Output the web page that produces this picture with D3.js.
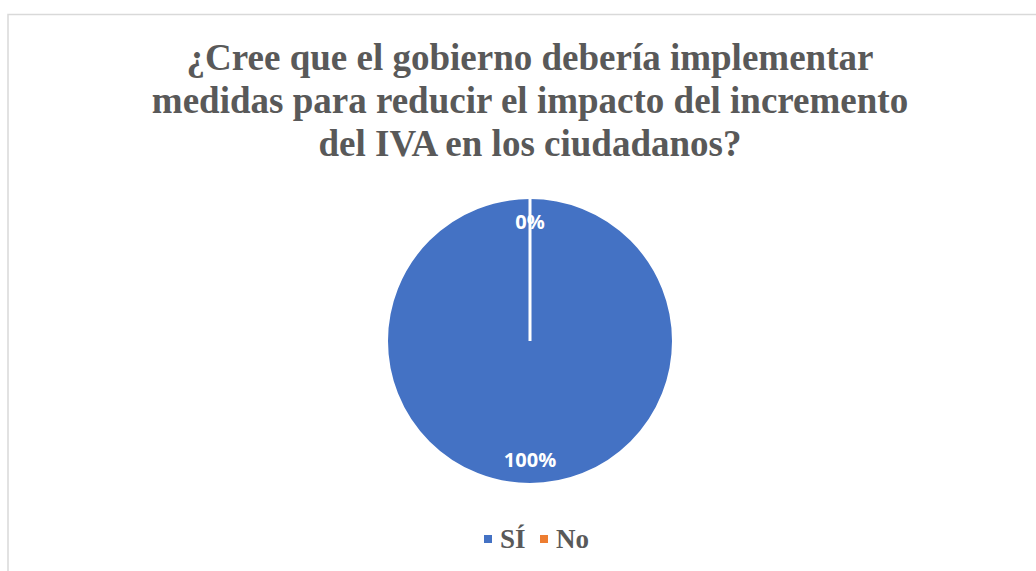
<!DOCTYPE html>
<html>
<head>
<meta charset="utf-8">
<script src="https://cdn.jsdelivr.net/npm/d3@7"></script>
<style>
  body { margin: 0; background: #fff; }
</style>
</head>
<body>
<div class="pie"></div>
<script>
var svgWidth = 1036;
var svgHeight = 571;

// chart data
var categories = ["SÍ", "No"];
var values = [100, 0];
var colors = ["#4472C4", "#ED7D31"];
var titleLines = [
  "¿Cree que el gobierno debería implementar",
  "medidas para reducir el impacto del incremento",
  "del IVA en los ciudadanos?"
];

var svg = d3.select(".pie")
  .append("svg")
  .attr("width", svgWidth)
  .attr("height", svgHeight);

// chart area border
svg.append("rect")
  .attr("x", 8)
  .attr("y", 14.5)
  .attr("width", 1040)
  .attr("height", 600)
  .attr("fill", "none")
  .attr("stroke", "#d9d9d9")
  .attr("stroke-width", 1.5);

// title
svg.append("text")
  .attr("text-anchor", "middle")
  .attr("font-family", "'Liberation Serif', 'Times New Roman', serif")
  .attr("font-weight", "bold")
  .attr("font-size", 37)
  .attr("fill", "#595959")
  .selectAll("tspan")
  .data(titleLines)
  .enter()
  .append("tspan")
  .attr("x", 530)
  .attr("y", (d, i) => 70 + i * 43)
  .text(d => d);

var cx = 530, cy = 341, radius = 143.5;

var pie = d3.pie().sort(null).value(d => d.value);
var arcs = pie(categories.map((c, i) => ({ name: c, value: values[i], color: colors[i] })));

var arc = d3.arc().innerRadius(0).outerRadius(radius);

var pieGroup = svg.append("g")
  .attr("transform", `translate(${cx}, ${cy})`);

pieGroup.selectAll("path")
  .data(arcs)
  .enter()
  .append("path")
  .attr("d", arc)
  .attr("fill", d => d.data.color)
  .attr("stroke", "#fff")
  .attr("stroke-width", 3);

var total = d3.sum(values);
pieGroup.selectAll("text")
  .data(arcs)
  .enter()
  .append("text")
  .attr("transform", d => {
    var a = (d.startAngle + d.endAngle) / 2;
    var r = radius * 0.83;
    return `translate(${Math.sin(a) * r}, ${-Math.cos(a) * r})`;
  })
  .attr("text-anchor", "middle")
  .attr("dy", "0.35em")
  .attr("font-family", "'Open Sans', 'Noto Sans', sans-serif")
  .attr("font-weight", "bold")
  .attr("font-size", 20)
  .attr("fill", "#fff")
  .text(d => Math.round(d.data.value / total * 100) + "%");

// legend
var legendX = [484, 540];
var legend = svg.append("g");
var items = legend.selectAll("g")
  .data(categories)
  .enter()
  .append("g")
  .attr("transform", (d, i) => `translate(${legendX[i]}, 539)`);

items.append("rect")
  .attr("x", 0)
  .attr("y", -4)
  .attr("width", 8)
  .attr("height", 8)
  .attr("fill", (d, i) => colors[i]);

items.append("text")
  .attr("x", 16)
  .attr("dy", "0.35em")
  .attr("font-family", "'Liberation Serif', 'Times New Roman', serif")
  .attr("font-weight", "bold")
  .attr("font-size", 27)
  .attr("fill", "#595959")
  .text(d => d);
</script>
</body>
</html>
